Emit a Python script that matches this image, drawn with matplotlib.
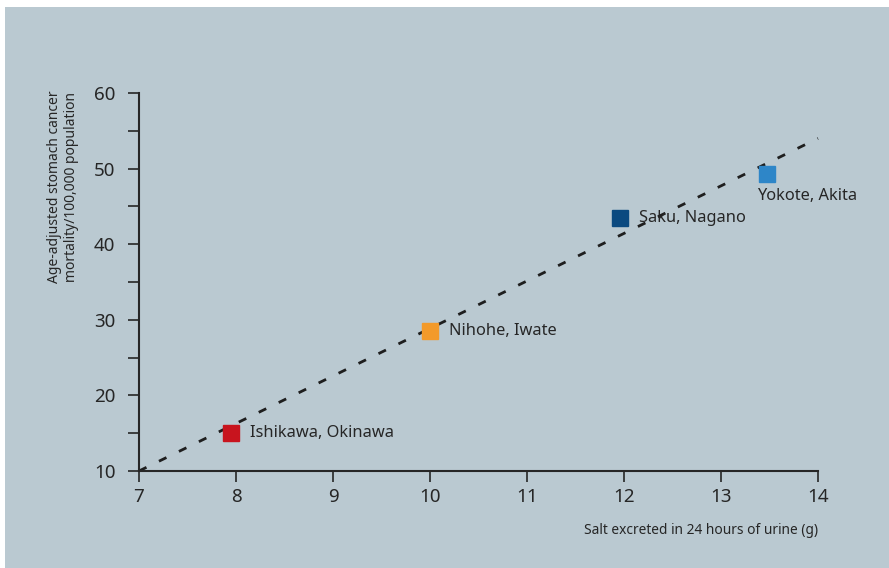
import matplotlib
matplotlib.use("Agg")
import matplotlib.pyplot as plt
from matplotlib.patches import Rectangle

places = ["Ishikawa, Okinawa", "Nihohe, Iwate", "Saku, Nagano", "Yokote, Akita"]
salt = [7.95, 10.0, 11.96, 13.47]
mortality = [15.0, 28.5, 43.4, 49.3]
colors = ["#c8141e", "#f39a2a", "#0b4a80", "#2e86c8"]
trend_x = [7, 14]
trend_y = [10, 54]
xticks = [7, 8, 9, 10, 11, 12, 13, 14]
yticks_major = [10, 20, 30, 40, 50, 60]
yticks_minor = [15, 25, 35, 45, 55]

plt.rcParams['font.family'] = ['Noto Sans', 'DejaVu Sans']
bg = "#bac9d1"
ink = "#262626"

fig = plt.figure(figsize=(8.89, 5.68), dpi=100)
fig.patch.set_facecolor("white")
fig.patches.append(Rectangle((5/889, 0), 1, 1 - 7/568, transform=fig.transFigure,
                             facecolor=bg, edgecolor="none", zorder=-10))

ax = fig.add_axes([139/889, 1 - 471/568, (818 - 139)/889, (471 - 93)/568])
ax.set_zorder(5)
ax.set_facecolor("none")
ax.set_xlim(7, 14)
ax.set_ylim(10, 60)
for s in ["top", "right"]:
    ax.spines[s].set_visible(False)
for s in ["left", "bottom"]:
    ax.spines[s].set_color(ink)
    ax.spines[s].set_linewidth(1.5)

ax.set_xticks(xticks)
ax.set_yticks(yticks_major)
ax.set_yticks(yticks_minor, minor=True)
ax.tick_params(axis="both", which="both", direction="out", length=8, width=1.2, color=ink,
               labelcolor=ink, labelsize=13.5)
ax.tick_params(axis="y", which="both", pad=9)
ax.tick_params(axis="x", pad=4)

ax.plot(trend_x, trend_y, color="#1e1e1e", lw=2.0, dashes=(3.0, 5.0), zorder=2, clip_on=False)

for i, (x, y, c, name) in enumerate(zip(salt, mortality, colors, places)):
    ax.plot([x], [y], marker="s", markersize=11.5, color=c, linestyle="none", zorder=3)
    if i < 3:
        ax.annotate(name, (x, y), xytext=(13.5, 0), textcoords="offset points",
                    ha="left", va="center", fontsize=11.8, color=ink)
    else:
        ax.annotate(name, (x, y), xytext=(-7, -16), textcoords="offset points",
                    ha="left", va="center", fontsize=11.8, color=ink)

fig.text(818/889, 1 - 531/568, "Salt excreted in 24 hours of urine (g)", ha="right", va="center",
         fontsize=9.9, color=ink)
fig.text(63/889, 1 - 187/568, "Age-adjusted stomach cancer\nmortality/100,000 population",
         rotation=90, ha="center", va="center", fontsize=10, color=ink, linespacing=1.15,
         multialignment="center")

fig.savefig("out.png", dpi=100)
